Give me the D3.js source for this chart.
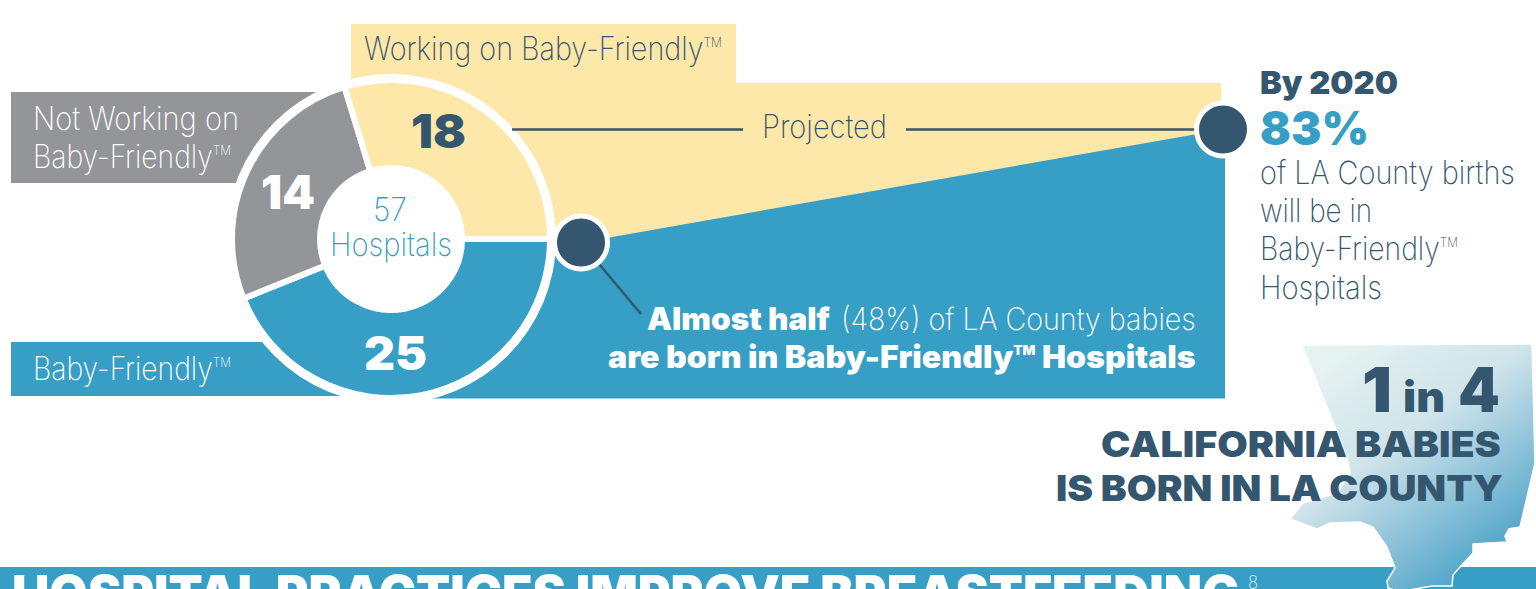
<!DOCTYPE html>
<html>
<head>
<meta charset="utf-8">
<script src="https://cdn.jsdelivr.net/npm/d3@7"></script>
<style>
    html, body { margin: 0; background: #fff; overflow: hidden; }
    svg { display: block; }
    text { font-family: Inter, Roboto, sans-serif; }
    .light { font-weight: 200; }
    .heavy { font-weight: 900; }
</style>
</head>
<body>
<div id="chart"></div>
<script>
// Values
const categories = ["Baby-Friendly", "Not Working on Baby-Friendly", "Working on Baby-Friendly"];
const hospitalCounts = [25, 14, 18];
const arcDegrees = [158, 95, 107]; // the slices as drawn, not quite proportional
const stages = ["Today", "By 2020"];
const birthShares = [48, 83];

const blue = "#379ec5", yellow = "#fde7a9", grey = "#939598", navy = "#34566f";
const sliceColors = [blue, grey, yellow];

const width = 1536, height = 589;
const svg = d3.select("#chart").append("svg")
    .attr("width", width)
    .attr("height", height);

const x = d3.scalePoint().domain(stages).range([581, 1223]);
const y = d3.scaleLinear().domain([0, 100]).range([397.5, 74.5]);

// text helper: squeezes a line to the measured width, keeps the baseline
function label(str, px, base, size, fill, cls, targetWidth, anchor) {
    const t = svg.append("text")
        .attr("class", cls)
        .attr("font-size", size)
        .attr("fill", fill);
    const parts = str.split("™");
    t.append("tspan").text(parts[0]);
    if (parts.length > 1) {
        t.append("tspan").attr("font-size", size * 0.42).attr("dy", -size * 0.42).text("TM");
        if (parts[1]) t.append("tspan").attr("dy", size * 0.42).text(parts[1]);
    }
    const w = t.node().getComputedTextLength();
    const k = targetWidth ? targetWidth / w : 1;
    const left = anchor === "end" ? px - w * k : px;
    t.attr("transform", `translate(${left},${base}) scale(${k},1)`);
    return t;
}

// background bands
svg.append("rect").attr("x", 351).attr("y", 24).attr("width", 385).attr("height", 60).attr("fill", yellow);
svg.append("rect").attr("x", 351).attr("y", 83).attr("width", 870).attr("height", 170).attr("fill", yellow);
svg.append("rect").attr("x", 11).attr("y", 92).attr("width", 320).attr("height", 91).attr("fill", grey);
svg.append("rect").attr("x", 11).attr("y", 342).attr("width", 400).attr("height", 54).attr("fill", blue);

// projected share area, flat past both stage points
const areaPoints = [
    { px: 391, share: birthShares[0] },
    { px: x(stages[0]), share: birthShares[0] },
    { px: x(stages[1]), share: birthShares[1] },
    { px: 1225, share: birthShares[1] }
];
svg.append("path")
    .datum(areaPoints)
    .attr("fill", blue)
    .attr("d", d3.area().x(d => d.px).y0(y(0) + 1).y1(d => y(d.share)));

// donut
const cx = 391, cy = 239;
const donut = svg.append("g").attr("transform", `translate(${cx},${cy})`);
donut.append("circle").attr("r", 165).attr("fill", "#fff");

const pie = d3.pie().sort(null).startAngle(Math.PI / 2).endAngle(Math.PI * 2.5);
const arc = d3.arc().innerRadius(71).outerRadius(159);
donut.selectAll("path")
    .data(pie(arcDegrees))
    .join("path")
    .attr("d", arc)
    .attr("fill", (d, i) => sliceColors[i])
    .attr("stroke", "#fff")
    .attr("stroke-width", 6);

// projected line and dots
svg.append("line").attr("x1", 512).attr("x2", 743).attr("y1", y(birthShares[1])).attr("y2", y(birthShares[1]))
    .attr("stroke", navy).attr("stroke-width", 2.5);
svg.append("line").attr("x1", 906).attr("x2", 1200).attr("y1", y(birthShares[1])).attr("y2", y(birthShares[1]))
    .attr("stroke", navy).attr("stroke-width", 2.5);
svg.append("line").attr("x1", x(stages[0])).attr("y1", y(birthShares[0])).attr("x2", 641).attr("y2", 314)
    .attr("stroke", navy).attr("stroke-width", 2.5);

svg.selectAll(".dot")
    .data(stages)
    .join("circle")
    .attr("class", "dot")
    .attr("cx", d => x(d))
    .attr("cy", (d, i) => y(birthShares[i]))
    .attr("r", 26.5)
    .attr("fill", navy)
    .attr("stroke", "#fff")
    .attr("stroke-width", 5);

// donut and band labels
label(categories[2] + "™", 364, 60, 32, navy, "light", 358);
label("Not Working on", 33, 130, 32, "#fff", "light", 206);
label("Baby-Friendly™", 33, 168, 32, "#fff", "light", 198);
label(categories[0] + "™", 33, 380, 32, "#fff", "light", 198);
label(String(hospitalCounts[2]), 411, 148, 47, navy, "heavy", 55);
label(String(hospitalCounts[1]), 261, 209, 47, "#fff", "heavy", 54);
label(String(hospitalCounts[0]), 364, 370, 47, "#fff", "heavy", 63);
label("57", 373, 221, 32, blue, "light", 34);
label("Hospitals", 330, 256, 32, blue, "light", 122);
label("Projected", 762, 138, 32, navy, "light", 125);

label("Almost half", 647, 330, 31, "#fff", "heavy", 183);
label("(48%) of LA County babies", 1196, 330, 31, "#fff", "light", 355, "end");
label("are born in Baby-Friendly™ Hospitals", 1196, 368, 31, "#fff", "heavy", 588, "end");

// right column
label("By 2020", 1260, 94, 32, navy, "heavy", 138);
label(birthShares[1] + "%", 1260, 145, 47, blue, "heavy", 109);
label("of LA County births", 1260, 184, 32, navy, "light", 255);
label("will be in", 1260, 222, 32, navy, "light", 112);
label("Baby-Friendly™", 1260, 260, 32, navy, "light", 198);
label("Hospitals", 1260, 299, 32, navy, "light", 122);

// bottom banner
svg.append("rect").attr("x", 0).attr("y", 567).attr("width", width).attr("height", 22).attr("fill", blue);

// LA County outline
const defs = svg.append("defs");
const grad = defs.append("linearGradient").attr("id", "county")
    .attr("x1", "20%").attr("y1", "5%").attr("x2", "85%").attr("y2", "95%");
grad.append("stop").attr("offset", "0%").attr("stop-color", "#e4f2f0");
grad.append("stop").attr("offset", "38%").attr("stop-color", "#cfe3ea");
grad.append("stop").attr("offset", "100%").attr("stop-color", "#3f9cc5");

const countyOutline = [
    [1302, 345], [1532, 344], [1535, 463], [1520, 527], [1509, 529], [1505, 536], [1507, 542], [1473, 544],
    [1473, 553], [1460, 567], [1453, 575], [1452, 586], [1432, 586], [1415, 589], [1400, 592], [1388, 588],
    [1387, 581], [1395, 568], [1387, 547], [1373, 527], [1360, 522], [1330, 523], [1317, 529], [1290, 519],
    [1303, 503], [1337, 493], [1350, 473], [1347, 457]
];
svg.append("path")
    .attr("d", d3.line()(countyOutline) + "Z")
    .attr("fill", "url(#county)")
    .attr("stroke", "#fff")
    .attr("stroke-width", 1.5);

label("HOSPITAL PRACTICES IMPROVE BREASTFEEDING", 12, 611, 50, "#fff", "heavy", 1228);
label("8", 1248, 589, 19, "#e6f2f7", "light", 10);

label("1", 1362, 412, 62, navy, "heavy", 30);
label("in", 1403, 412, 42, navy, "heavy", 42);
label("4", 1458, 412, 62, navy, "heavy", 42);
label("CALIFORNIA BABIES", 1101, 457, 36, navy, "heavy", 400);
label("IS BORN IN LA COUNTY", 1056, 501, 36, navy, "heavy", 447);
</script>
</body>
</html>
